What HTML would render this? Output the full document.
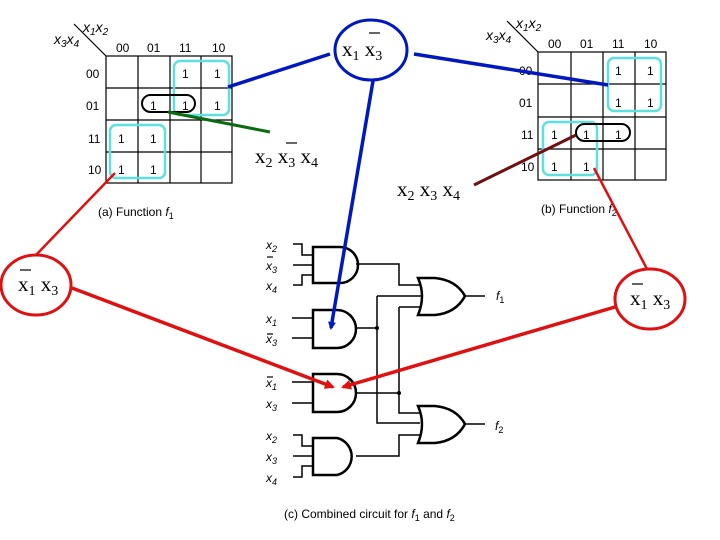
<!DOCTYPE html>
<html><head><style>
html,body{margin:0;padding:0;background:#fff;}
svg{display:block;}
.s{font-family:"Liberation Sans",sans-serif;font-size:12px;}
.h{font-family:"Liberation Sans",sans-serif;font-size:14px;font-style:italic;}
.r{font-family:"Liberation Serif",serif;font-size:21px;}
</style></head><body>
<svg width="720" height="540" viewBox="0 0 720 540" xmlns="http://www.w3.org/2000/svg">
<defs>
<marker id="ab" markerWidth="8" markerHeight="8" refX="6" refY="4" orient="auto" markerUnits="userSpaceOnUse" viewBox="0 0 8 8"><path d="M0,0 L8,4 L0,8 z" fill="#0018c0"/></marker>
<marker id="ar" markerWidth="10" markerHeight="10" refX="8" refY="5" orient="auto" markerUnits="userSpaceOnUse" viewBox="0 0 10 10"><path d="M0,0 L10,5 L0,10 z" fill="#e01010"/></marker>
</defs>
<!-- Left K-map -->
<g stroke="#000" stroke-width="1.2" fill="none">
<rect x="106" y="56" width="126" height="127"/>
<line x1="138" y1="56" x2="138" y2="183"/><line x1="170" y1="56" x2="170" y2="183"/><line x1="201" y1="56" x2="201" y2="183"/>
<line x1="106" y1="88" x2="232" y2="88"/><line x1="106" y1="120" x2="232" y2="120"/><line x1="106" y1="152" x2="232" y2="152"/>
<line x1="74" y1="24" x2="106" y2="56"/>
</g>
<g class="h">
<text x="83" y="32">x<tspan font-size="10" dy="3">1</tspan><tspan dy="-3">x</tspan><tspan font-size="10" dy="3">2</tspan></text>
<text x="54" y="44">x<tspan font-size="10" dy="3">3</tspan><tspan dy="-3">x</tspan><tspan font-size="10" dy="3">4</tspan></text>
<text x="486" y="40">x<tspan font-size="10" dy="3">3</tspan><tspan dy="-3">x</tspan><tspan font-size="10" dy="3">4</tspan></text>
<text x="516" y="28">x<tspan font-size="10" dy="3">1</tspan><tspan dy="-3">x</tspan><tspan font-size="10" dy="3">2</tspan></text>
</g>
<g class="s">
<text x="116" y="52">00</text><text x="147" y="52">01</text><text x="179" y="52">11</text><text x="212" y="52">10</text>
<text x="86" y="78">00</text><text x="86" y="110">01</text><text x="88" y="174">10</text><text x="88" y="143">11</text>
<text x="182" y="78">1</text><text x="214" y="78">1</text>
<text x="150" y="110">1</text><text x="182" y="110">1</text><text x="214" y="110">1</text>
<text x="118" y="143">1</text><text x="150" y="143">1</text><text x="118" y="174">1</text><text x="150" y="174">1</text>
<text x="98" y="216">(a) Function <tspan font-style="italic">f</tspan><tspan font-size="9" dy="3">1</tspan></text>
</g>
<rect x="174" y="61" width="55" height="54" rx="6" fill="none" stroke="#5ee0e0" stroke-width="2.5"/>
<rect x="110" y="125" width="55" height="53" rx="6" fill="none" stroke="#5ee0e0" stroke-width="2.5"/>
<rect x="142" y="95" width="53" height="17" rx="8.5" fill="none" stroke="#000" stroke-width="2"/>

<!-- Right K-map -->
<g stroke="#000" stroke-width="1.2" fill="none">
<rect x="538" y="52" width="128" height="128"/>
<line x1="571" y1="52" x2="571" y2="180"/><line x1="603" y1="52" x2="603" y2="180"/><line x1="635" y1="52" x2="635" y2="180"/>
<line x1="538" y1="84" x2="666" y2="84"/><line x1="538" y1="117" x2="666" y2="117"/><line x1="538" y1="149" x2="666" y2="149"/>
<line x1="507" y1="21" x2="538" y2="52"/>
</g>
<g class="s">
<text x="548" y="48">00</text><text x="580" y="48">01</text><text x="612" y="48">11</text><text x="644" y="48">10</text>
<text x="519" y="75">00</text><text x="519" y="107">01</text><text x="521" y="139">11</text><text x="521" y="171">10</text>
<text x="615" y="75">1</text><text x="647" y="75">1</text><text x="615" y="107">1</text><text x="647" y="107">1</text>
<text x="551" y="139">1</text><text x="583" y="139">1</text><text x="615" y="139">1</text>
<text x="551" y="171">1</text><text x="583" y="171">1</text>
<text x="541" y="213">(b) Function <tspan font-style="italic">f</tspan><tspan font-size="9" dy="3">2</tspan></text>
</g>
<rect x="608" y="58" width="53" height="53" rx="6" fill="none" stroke="#5ee0e0" stroke-width="2.5"/>
<rect x="543" y="122" width="54" height="53" rx="6" fill="none" stroke="#5ee0e0" stroke-width="2.5"/>
<rect x="576" y="124" width="54" height="17" rx="8.5" fill="none" stroke="#000" stroke-width="2"/>

<!-- Gates -->
<g stroke="#000" stroke-width="2.5" fill="none">
<path d="M313,247 H340 A18,18 0 0 1 340,283 H313 Z"/>
<path d="M313,310 H337 A19,19 0 0 1 337,348 H313 Z"/>
<path d="M313,374 H337 A19,19 0 0 1 337,412 H313 Z"/>
<path d="M313,438 H337 A19,19 0 0 1 337,475 H313 Z"/>
<path d="M418,278 H435 Q456,280 465,296 Q456,313 435,315 H418 Q426,296 418,278 Z"/>
<path d="M418,406 H435 Q456,408 465,424 Q456,441 435,443 H418 Q426,424 418,406 Z"/>
</g>
<g stroke="#000" stroke-width="1.5" fill="none">
<path d="M293,244 H302 V255 H313 M293,265 H313 M293,285 H302 V275 H313"/>
<path d="M292,318 H313 M292,338 H313"/>
<path d="M292,382 H313 M292,403 H313"/>
<path d="M293,435 H302 V446 H313 M293,456 H313 M293,477 H302 V466 H313"/>
<path d="M356,264 H399 V285 H420"/>
<path d="M356,328 H377 M377,296 V423 H420 M377,296 H422"/>
<path d="M356,393 H399 M399,307 V413 H421 M399,307 H421"/>
<path d="M356,456 H399 V435 H420"/>
<path d="M465,296 H485 M465,424 H485"/>
</g>
<circle cx="377" cy="328" r="2" fill="#000"/><circle cx="399" cy="393" r="2" fill="#000"/>
<g class="s" font-style="italic">
<text x="266" y="249">x<tspan font-size="9" dy="3">2</tspan></text>
<text x="266" y="270">x<tspan font-size="9" dy="3">3</tspan></text>
<text x="266" y="290">x<tspan font-size="9" dy="3">4</tspan></text>
<text x="266" y="323">x<tspan font-size="9" dy="3">1</tspan></text>
<text x="266" y="343">x<tspan font-size="9" dy="3">3</tspan></text>
<text x="266" y="387">x<tspan font-size="9" dy="3">1</tspan></text>
<text x="266" y="408">x<tspan font-size="9" dy="3">3</tspan></text>
<text x="266" y="440">x<tspan font-size="9" dy="3">2</tspan></text>
<text x="266" y="461">x<tspan font-size="9" dy="3">3</tspan></text>
<text x="266" y="482">x<tspan font-size="9" dy="3">4</tspan></text>
<text x="496" y="300">f<tspan font-size="9" dy="3" font-style="normal">1</tspan></text>
<text x="495" y="430">f<tspan font-size="9" dy="3" font-style="normal">2</tspan></text>
</g>
<g stroke="#000" stroke-width="1.2"><line x1="267" y1="257" x2="273" y2="257"/><line x1="267" y1="334" x2="273" y2="334"/><line x1="267" y1="377" x2="273" y2="377"/></g>
<text class="s" x="284" y="518">(c) Combined circuit for <tspan font-style="italic">f</tspan><tspan font-size="9" dy="3">1</tspan><tspan dy="-3">  and  </tspan><tspan font-style="italic">f</tspan><tspan font-size="9" dy="3">2</tspan></text>

<!-- Connectors -->
<g stroke-width="3.5" fill="none">
<line x1="330" y1="54" x2="228" y2="87" stroke="#0018c0"/>
<line x1="414" y1="54" x2="608" y2="85" stroke="#0018c0"/>
<line x1="373" y1="81" x2="331" y2="328" stroke="#0018c0" marker-end="url(#ab)"/>
<line x1="168" y1="112" x2="270" y2="132" stroke="#0a6a10" stroke-width="3"/>
<line x1="474" y1="185" x2="576" y2="135" stroke="#701010" stroke-width="3"/>
<line x1="36" y1="255" x2="115" y2="173" stroke="#e01010" stroke-width="2.5"/>
<line x1="72" y1="288" x2="333" y2="387" stroke="#e01010" marker-end="url(#ar)"/>
<line x1="647" y1="269" x2="594" y2="168" stroke="#e01010" stroke-width="2.5"/>
<line x1="615" y1="307" x2="343" y2="387" stroke="#e01010" marker-end="url(#ar)"/>
</g>
<ellipse cx="371" cy="50" rx="36" ry="30" fill="#fff" stroke="#0018c0" stroke-width="3"/>
<ellipse cx="36" cy="285" rx="35" ry="30" fill="#fff" stroke="#e01010" stroke-width="3"/>
<ellipse cx="650" cy="299" rx="35" ry="30" fill="#fff" stroke="#e01010" stroke-width="3"/>
<g class="r">
<text x="342" y="56">x<tspan font-size="14" dy="4">1</tspan><tspan dy="-4"> x</tspan><tspan font-size="14" dy="4">3</tspan></text>
<text x="18" y="291">x<tspan font-size="14" dy="4">1</tspan><tspan dy="-4"> x</tspan><tspan font-size="14" dy="4">3</tspan></text>
<text x="630" y="305">x<tspan font-size="14" dy="4">1</tspan><tspan dy="-4"> x</tspan><tspan font-size="14" dy="4">3</tspan></text>
<text x="255" y="163">x<tspan font-size="14" dy="4">2</tspan><tspan dy="-4"> x</tspan><tspan font-size="14" dy="4">3</tspan><tspan dy="-4"> x</tspan><tspan font-size="14" dy="4">4</tspan></text>
<text x="397" y="196">x<tspan font-size="14" dy="4">2</tspan><tspan dy="-4"> x</tspan><tspan font-size="14" dy="4">3</tspan><tspan dy="-4"> x</tspan><tspan font-size="14" dy="4">4</tspan></text>
</g>
<g stroke="#000" stroke-width="1.2">
<line x1="369" y1="33" x2="380" y2="33"/>
<line x1="20" y1="270" x2="31" y2="270"/>
<line x1="632" y1="284" x2="643" y2="284"/>
<line x1="286" y1="143" x2="297" y2="143"/>
</g>
</svg>
</body></html>
